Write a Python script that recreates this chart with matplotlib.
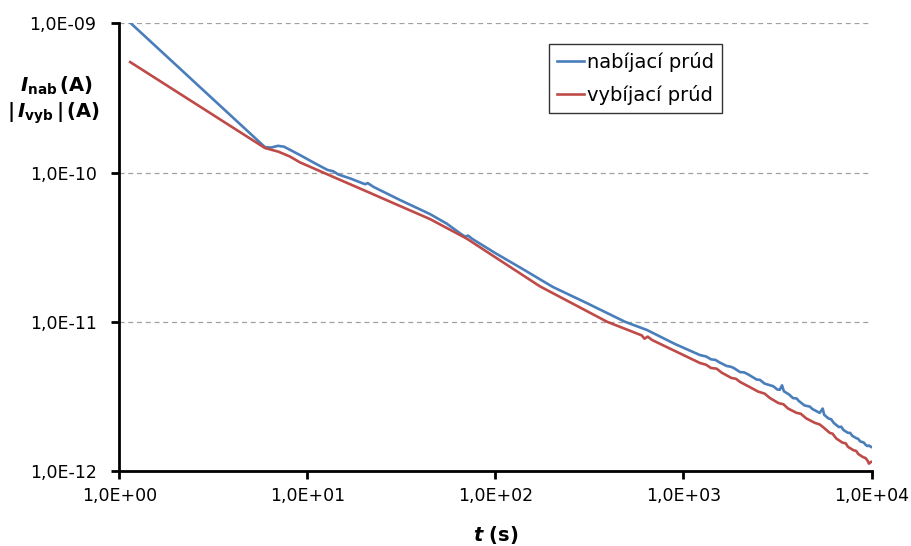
import matplotlib.pyplot as plt
import numpy as np
from matplotlib.ticker import FuncFormatter, NullLocator

plt.rcParams['font.family'] = ['DejaVu Sans']
plt.rcParams['mathtext.fontset'] = 'custom'
plt.rcParams['mathtext.rm'] = 'DejaVu Sans'
plt.rcParams['mathtext.bf'] = 'DejaVu Sans:bold'
plt.rcParams['mathtext.it'] = 'DejaVu Sans:italic'
plt.rcParams['mathtext.bfit'] = 'DejaVu Sans:bold:italic'

# charging current (nabíjací prúd)
t_nab = [1.15, 5.94, 6.4, 6.97, 7.5, 8.07, 9.12, 11.0, 12.8, 13.7, 14.6, 17.0,
         19.5, 20.3, 20.9, 22.5, 31, 44.8, 55, 66, 69, 71.5, 75, 100, 140, 202,
         300, 488, 640, 900, 1224, 1320, 1400, 1480, 1550, 1700, 1780, 1850,
         2000, 2100, 2200, 2450, 2550, 2700, 3000, 3150, 3250, 3342, 3420,
         3650, 3820, 4000, 4100, 4400, 4700, 4850, 5000, 5300, 5500, 5600,
         5900, 6100, 6300, 6700, 6900, 7100, 7500, 7700, 7900, 8300, 8500,
         8700, 9100, 9300, 9500, 9700, 9940]
i_nab = [1.00e-9, 1.48e-10, 1.47e-10, 1.51e-10, 1.49e-10, 1.42e-10, 1.31e-10,
         1.15e-10, 1.04e-10, 1.02e-10, 9.7e-11, 9.1e-11, 8.5e-11, 8.35e-11,
         8.5e-11, 8.0e-11, 6.55e-11, 5.27e-11, 4.55e-11, 3.85e-11, 3.72e-11,
         3.78e-11, 3.6e-11, 2.88e-11, 2.25e-11, 1.71e-11, 1.35e-11, 1.0e-11,
         8.8e-12, 7.1e-12, 5.98e-12, 5.85e-12, 5.6e-12, 5.55e-12, 5.35e-12,
         5.05e-12, 5.0e-12, 4.9e-12, 4.6e-12, 4.58e-12, 4.45e-12, 4.1e-12,
         4.08e-12, 3.85e-12, 3.7e-12, 3.52e-12, 3.5e-12, 3.75e-12, 3.42e-12,
         3.25e-12, 3.08e-12, 3.06e-12, 2.95e-12, 2.75e-12, 2.7e-12, 2.6e-12,
         2.55e-12, 2.45e-12, 2.62e-12, 2.38e-12, 2.25e-12, 2.22e-12, 2.1e-12,
         1.97e-12, 1.98e-12, 1.88e-12, 1.8e-12, 1.8e-12, 1.72e-12, 1.66e-12,
         1.64e-12, 1.58e-12, 1.55e-12, 1.5e-12, 1.47e-12, 1.48e-12, 1.45e-12]

# discharging current (vybíjací prúd), absolute value
t_vyb = [1.14, 5.94, 7.0, 8.07, 9.12, 13.7, 20.7, 30, 44.8, 70.5, 100, 172, 188,
         392, 600, 620, 645, 680, 1224, 1320, 1400, 1500, 1600, 1800, 1900,
         2000, 2250, 2500, 2700, 2884, 3200, 3400, 3600, 4000, 4200, 4500,
         5000, 5300, 5520, 6000, 6200, 6500, 7000, 7300, 7500, 8000, 8300,
         8500, 9000, 9300, 9500, 9700, 9940]
i_vyb = [5.5e-10, 1.46e-10, 1.38e-10, 1.28e-10, 1.17e-10, 9.35e-11, 7.46e-11,
         6.08e-11, 4.88e-11, 3.6e-11, 2.7e-11, 1.73e-11, 1.63e-11, 1.0e-11,
         8.1e-12, 7.7e-12, 7.95e-12, 7.55e-12, 5.29e-12, 5.15e-12, 4.9e-12,
         4.85e-12, 4.55e-12, 4.2e-12, 4.15e-12, 3.95e-12, 3.65e-12, 3.4e-12,
         3.3e-12, 3.08e-12, 2.85e-12, 2.8e-12, 2.62e-12, 2.45e-12, 2.42e-12,
         2.25e-12, 2.1e-12, 2.05e-12, 1.97e-12, 1.8e-12, 1.78e-12, 1.65e-12,
         1.55e-12, 1.53e-12, 1.45e-12, 1.38e-12, 1.36e-12, 1.3e-12, 1.24e-12,
         1.22e-12, 1.18e-12, 1.12e-12, 1.15e-12]

x_ticks = [1e0, 1e1, 1e2, 1e3, 1e4]
y_ticks = [1e-12, 1e-11, 1e-10, 1e-9]

fig = plt.figure(figsize=(9.12, 5.46), dpi=100)
ax = fig.add_axes([0.131, 0.1374, 0.8246, 0.8199])

ax.plot(t_nab, i_nab, color='#4a7ebb', linewidth=1.9, label='nabíjací prúd')
ax.plot(t_vyb, i_vyb, color='#be4b48', linewidth=1.9, label='vybíjací prúd')

ax.set_xscale('log')
ax.set_yscale('log')
ax.set_xlim(1, 1e4)
ax.set_ylim(1e-12, 1e-9)
ax.set_xticks(x_ticks)
ax.set_yticks(y_ticks)

fmt = FuncFormatter(lambda v, pos: '1,0E{:+03d}'.format(int(round(np.log10(v)))))
ax.xaxis.set_major_formatter(fmt)
ax.yaxis.set_major_formatter(fmt)
ax.xaxis.set_minor_locator(NullLocator())
ax.yaxis.set_minor_locator(NullLocator())
ax.tick_params(axis='both', labelsize=12.5, direction='out', length=5.5,
               width=2, colors='black')
ax.tick_params(axis='x', pad=6)
ax.tick_params(axis='y', pad=11)

for side in ['top', 'right']:
    ax.spines[side].set_visible(False)
for side in ['left', 'bottom']:
    ax.spines[side].set_linewidth(2)

ax.yaxis.grid(True, linestyle=(0, (4, 3)), color='#a0a0a0', linewidth=0.9)
ax.set_axisbelow(True)

leg = ax.legend(loc='upper left', bbox_to_anchor=(0.571, 0.954), fontsize=14,
                frameon=True, fancybox=False, handlelength=1.4, handletextpad=0.15,
                borderpad=0.4, labelspacing=0.7, borderaxespad=0)
leg.get_frame().set_edgecolor('black')
leg.get_frame().set_linewidth(1)

fig.text(0.062, 0.843, r'$\mathbfit{I}_{\mathbf{nab}}\,\mathbf{(A)}$',
         ha='center', va='center', fontsize=14)
fig.text(0.058, 0.793, r'$\mathbf{|}\,\mathbfit{I}_{\mathbf{vyb}}\,\mathbf{|\,(A)}$',
         ha='center', va='center', fontsize=14)
fig.text(0.544, 0.02, r'$\mathbfit{t}\ \mathbf{(s)}$', ha='center', va='center',
         fontsize=14)

fig.savefig('out.png', dpi=100)
